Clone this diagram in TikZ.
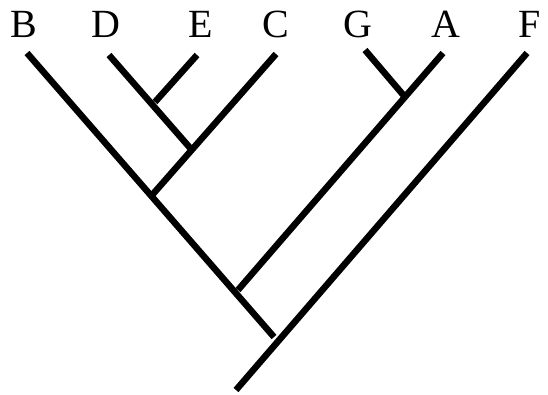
\documentclass[tikz,border=0pt]{standalone}
\usepackage{fontspec}
\setmainfont{Liberation Serif}
\begin{document}
\begin{tikzpicture}[x=1pt,y=-1pt,
  branch/.style={line width=6.5pt,black},
  taxon/.style={anchor=base,inner sep=0pt,font=\fontsize{40}{44}\selectfont}]
\useasboundingbox (0,0) rectangle (548,394);
% labels
\node[taxon] (B) at (24,37) {B};
\node[taxon] (D) at (106,37) {D};
\node[taxon] (E) at (201,37) {E};
\node[taxon] (C) at (276,37) {C};
\node[taxon] (G) at (358,37) {G};
\node[taxon] (A) at (446,37) {A};
\node[taxon] (F) at (530,37) {F};
% tips
\coordinate (tB) at (27,53);
\coordinate (tD) at (109,55);
\coordinate (tE) at (197,55);
\coordinate (tC) at (276,54);
\coordinate (tG) at (365,50);
\coordinate (tA) at (443,53);
\coordinate (tF) at (527,53);
% junctions
\coordinate (jDE) at (155,102);
\coordinate (jDEC) at (191,149);
\coordinate (jBC) at (153,194);
\coordinate (jGA) at (405,97);
\coordinate (jBA) at (238,290);
\coordinate (root) at (274,337);
\coordinate (stem) at (236,390);
% branches
\draw[branch] (tB) -- (root);
\draw[branch] (tF) -- (stem);
\draw[branch] (tA) -- (jBA);
\draw[branch] (tG) -- (jGA);
\draw[branch] (tC) -- (jBC);
\draw[branch] (tD) -- (jDEC);
\draw[branch] (tE) -- (jDE);
\end{tikzpicture}
\end{document}
